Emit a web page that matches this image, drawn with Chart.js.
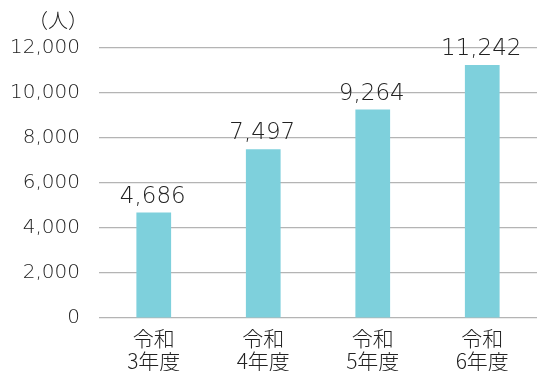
<!DOCTYPE html>
<html>
<head>
<meta charset="utf-8">
<script src="https://cdn.jsdelivr.net/npm/chart.js@4/dist/chart.umd.min.js"></script>
<style>
  html, body { margin: 0; padding: 0; background: #fff; }
  #wrap { width: 537px; height: 371px; position: relative; }
</style>
</head>
<body>
<div id="wrap"><canvas id="c" width="537" height="371"></canvas></div>
<script>
// Fiscal-year categories (two lines each) and users per year
const categories = [["令和", "3年度"], ["令和", "4年度"], ["令和", "5年度"], ["令和", "6年度"]];
const users = [4686, 7497, 9264, 11242];
const yTicks = [0, 2000, 4000, 6000, 8000, 10000, 12000];
const unitLabel = "（人）";

const NUM_FONT = "'DejaVu Sans', sans-serif";
const JP_FONT = "'Noto Sans CJK JP', 'Noto Sans', sans-serif";
const TEXT = "#222222";

// Value labels above each bar, plus the unit caption over the y axis
const labelPlugin = {
  id: "valueLabels",
  afterDatasetsDraw(chart) {
    const ctx = chart.ctx;
    const meta = chart.getDatasetMeta(0);
    ctx.save();
    ctx.fillStyle = TEXT;
    ctx.font = "200 23px " + NUM_FONT;
    ctx.textAlign = "center";
    ctx.textBaseline = "alphabetic";
    meta.data.forEach((bar, i) => {
      ctx.fillText(users[i].toLocaleString("en-US"), bar.x - 1, bar.y - 10);
    });
    ctx.font = "300 20px " + JP_FONT;
    ctx.textAlign = "center";
    ctx.textBaseline = "middle";
    ctx.fillText(unitLabel, 58, 20);
    ctx.restore();
  }
};

new Chart(document.getElementById("c"), {
  type: "bar",
  data: {
    labels: categories,
    datasets: [{
      data: users,
      backgroundColor: "#7ed0dc",
      borderWidth: 0,
      barPercentage: 0.317,
      categoryPercentage: 1
    }]
  },
  options: {
    responsive: false,
    animation: false,
    layout: { padding: { top: 48, right: -3, left: 0, bottom: 0 } },
    plugins: { legend: { display: false }, tooltip: { enabled: false } },
    scales: {
      x: {
        grid: { display: false, drawTicks: false },
        border: { display: false },
        ticks: {
          color: TEXT,
          font: { family: JP_FONT, size: 21, weight: 300, lineHeight: 1.12 },
          padding: 8,
          maxRotation: 0,
          autoSkip: false
        },
        afterFit(s) { s.height = 53; }
      },
      y: {
        min: 0,
        max: 12000,
        afterBuildTicks(s) { s.ticks = yTicks.map(v => ({ value: v })); },
        grid: { color: "#b4b4b4", lineWidth: 1.2, drawTicks: false },
        border: { display: false },
        ticks: {
          color: TEXT,
          font: { family: NUM_FONT, size: 20, weight: 200 },
          padding: 19,
          callback: v => v.toLocaleString("en-US")
        },
        afterFit(s) { s.width = 99; }
      }
    }
  },
  plugins: [labelPlugin]
});
</script>
</body>
</html>
